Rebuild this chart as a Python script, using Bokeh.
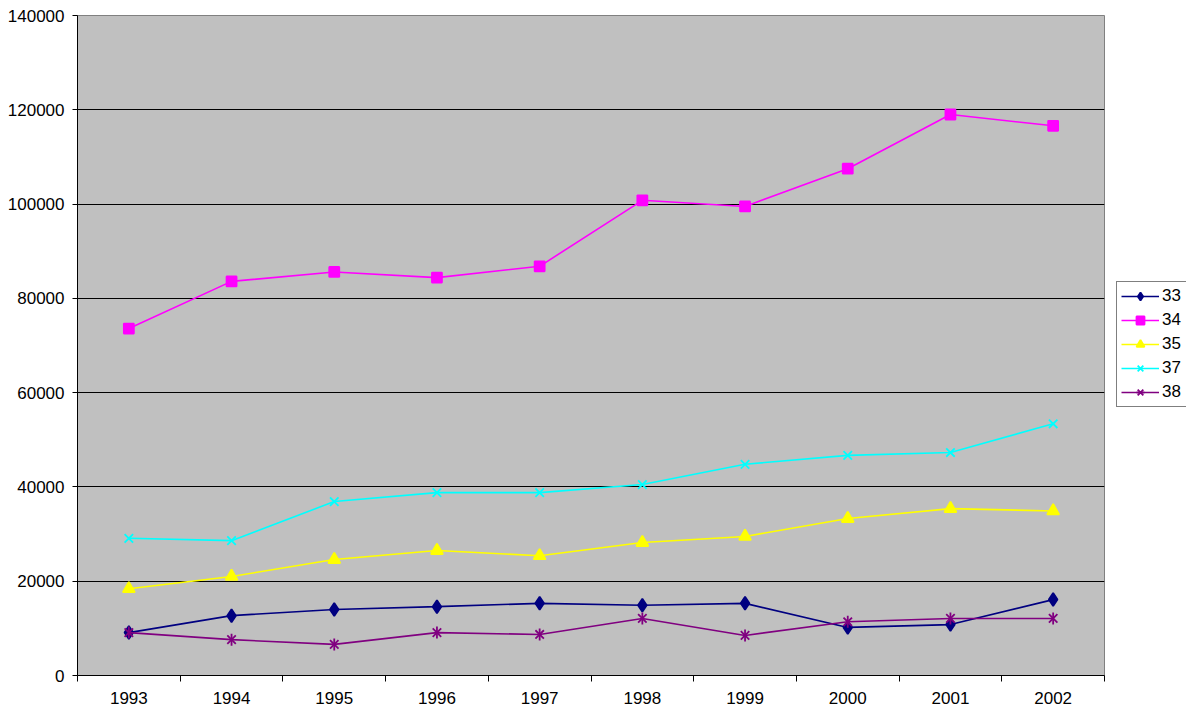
import math
from bokeh.plotting import figure
from bokeh.models import (ColumnDataSource, FixedTicker, Range1d, Legend, LegendItem,
                          BasicTickFormatter)
from bokeh.embed import file_html
from bokeh.resources import INLINE

years = ["1993", "1994", "1995", "1996", "1997", "1998", "1999", "2000", "2001", "2002"]

s33 = [9100, 12700, 14000, 14600, 15300, 14900, 15300, 10200, 10800, 16100]
s34 = [73600, 83600, 85600, 84400, 86800, 100800, 99500, 107500, 119000, 116600]
s35 = [18400, 21000, 24600, 26500, 25400, 28200, 29500, 33300, 35400, 34900]
s37 = [29100, 28600, 36900, 38800, 38800, 40500, 44800, 46700, 47300, 53400]
s38 = [9100, 7600, 6600, 9100, 8700, 12100, 8500, 11400, 12100, 12100]

series_names = ["33", "34", "35", "37", "38"]
series_values = [s33, s34, s35, s37, s38]
colors = ["#000080", "#FF00FF", "#FFFF00", "#00FFFF", "#800080"]

FONT = "Liberation Sans"

x = list(range(len(years)))

p = figure(frame_width=1027, frame_height=660, output_backend="svg", toolbar_location=None,
           x_range=Range1d(-0.5, len(years) - 0.5), y_range=Range1d(0, 140000),
           min_border_left=77, min_border_top=15, min_border_bottom=33, min_border_right=0)

p.background_fill_color = "#C0C0C0"
p.border_fill_color = "white"
p.outline_line_color = "#808080"
p.outline_line_width = 1

# grid
p.xgrid.grid_line_color = None
p.ygrid.grid_line_color = "black"
p.ygrid.grid_line_width = 1

# y axis
p.yaxis.ticker = FixedTicker(ticks=list(range(0, 140001, 20000)))
p.yaxis.formatter = BasicTickFormatter(use_scientific=False)
p.yaxis.major_tick_out = 5
p.yaxis.major_tick_in = 0
p.yaxis.minor_tick_line_color = None
p.yaxis.axis_line_color = "black"
p.yaxis.major_label_text_font = FONT
p.yaxis.major_label_text_font_size = "17px"
p.yaxis.major_label_text_color = "black"
p.yaxis.major_label_standoff = 8

# x axis: labels at category centres, ticks between categories
p.xaxis.ticker = FixedTicker(ticks=x, minor_ticks=[i - 0.5 for i in range(len(years) + 1)])
p.xaxis.major_label_overrides = {i: y for i, y in enumerate(years)}
p.xaxis.major_tick_out = 0
p.xaxis.major_tick_in = 0
p.xaxis.minor_tick_out = 6
p.xaxis.minor_tick_in = 0
p.xaxis.minor_tick_line_color = "black"
p.xaxis.axis_line_color = "black"
p.xaxis.major_label_text_font = FONT
p.xaxis.major_label_text_font_size = "17px"
p.xaxis.major_label_text_color = "black"
p.xaxis.major_label_standoff = 10

items = []
markers = ["diamond", "square", "triangle", "x", None]
sizes = [13, 10, 12, 12, 12]
for name, vals, col, mk, sz in zip(series_names, series_values, colors, markers, sizes):
    src = ColumnDataSource(data=dict(x=x, y=vals))
    rs = [p.line("x", "y", source=src, line_color=col, line_width=1.6)]
    if mk is not None:
        rs.append(p.scatter("x", "y", source=src, marker=mk, size=sz,
                            fill_color=col, line_color=col, line_width=1.8))
    else:
        # star marker: an x crossed by a vertical stroke
        rs.append(p.scatter("x", "y", source=src, marker="x", size=sz,
                            line_color=col, line_width=1.8))
        rs.append(p.scatter("x", "y", source=src, marker="dash", size=sz, angle=math.pi / 2,
                            line_color=col, line_width=1.8))
    items.append(LegendItem(label=name, renderers=rs))

# legend in the right-hand panel
legend = Legend(items=items, location=(12, 268))
legend.label_text_font = FONT
legend.label_text_font_size = "17px"
legend.label_text_color = "black"
legend.border_line_color = "black"
legend.border_line_width = 1
legend.background_fill_color = "white"
legend.glyph_width = 38
legend.glyph_height = 20
legend.label_standoff = 3
legend.spacing = 4
legend.padding = 4
legend.margin = 0
legend.label_height = 20
p.add_layout(legend, "right")

open("out.html", "w").write(file_html(p, INLINE))
